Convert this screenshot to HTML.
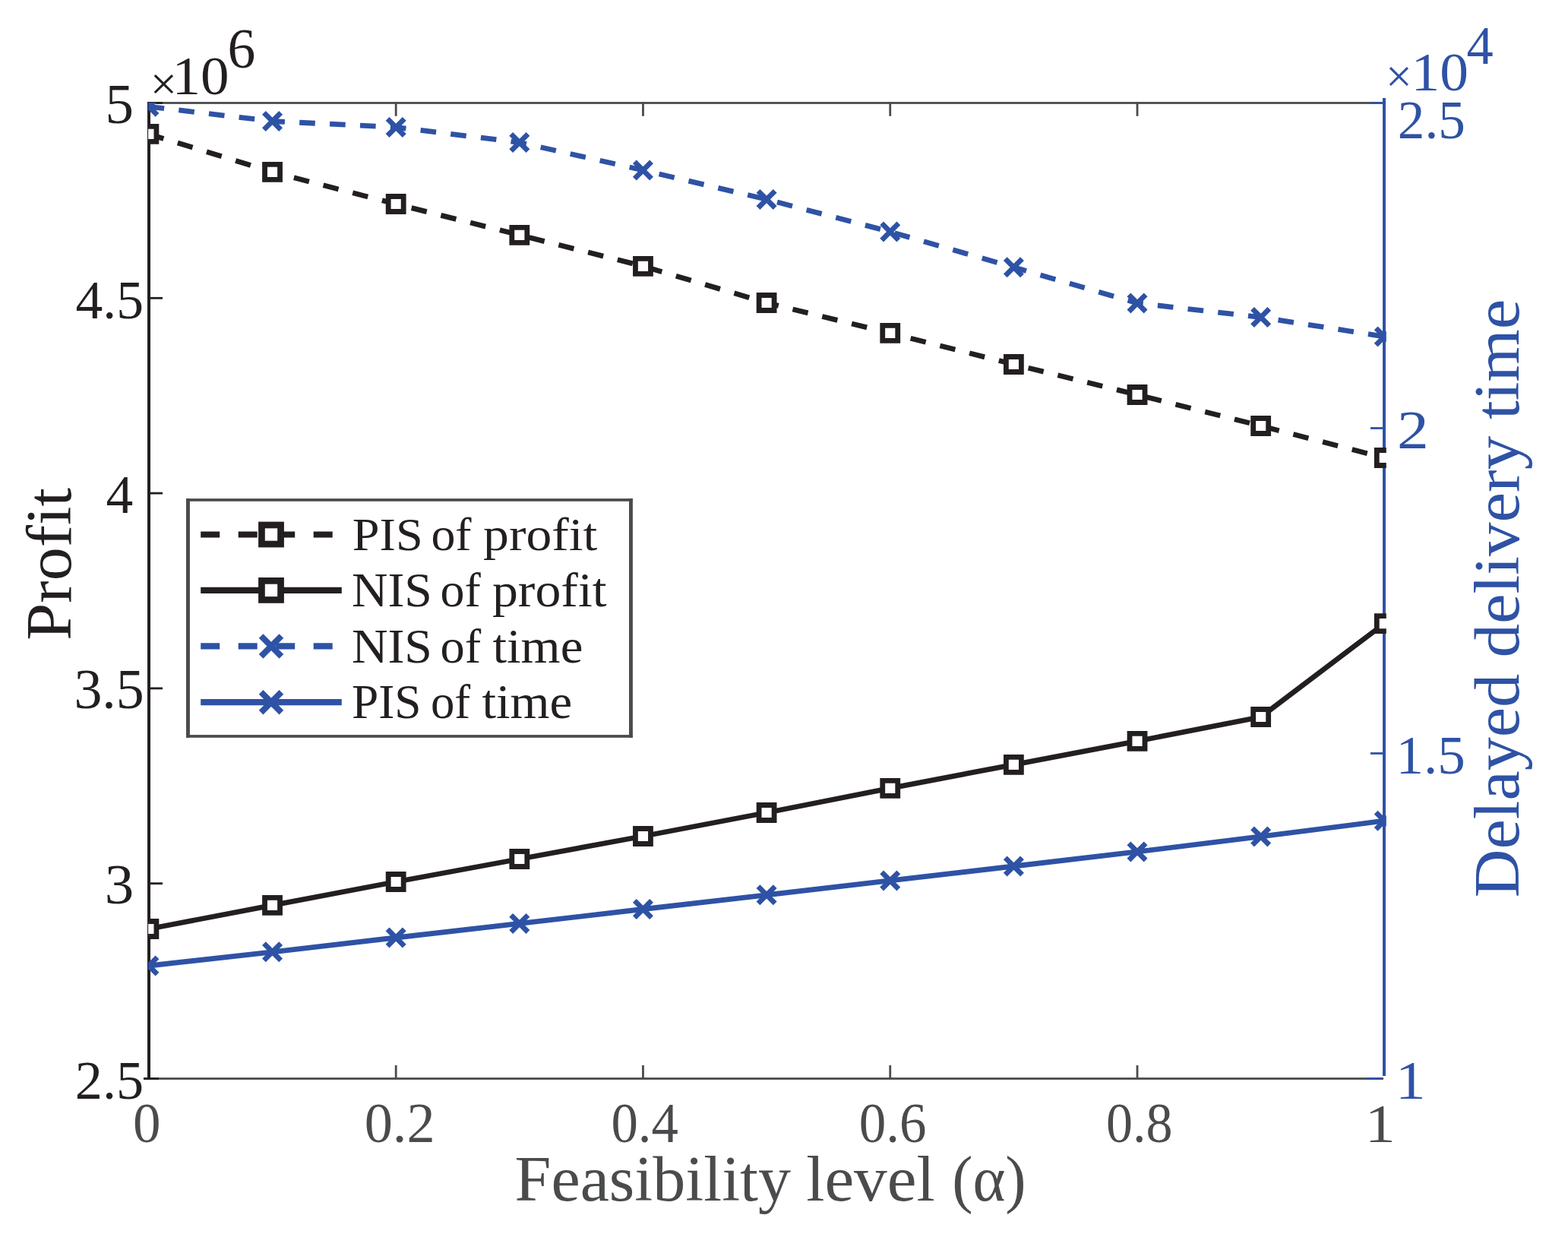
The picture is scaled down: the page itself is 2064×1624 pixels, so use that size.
<!DOCTYPE html><html><head><meta charset="utf-8"><title>Profit and delayed delivery time vs feasibility level</title><style>html,body{margin:0;padding:0;background:#fff;}svg{display:block;}text{font-family:"Liberation Serif",serif;font-size:100px;}</style></head><body>
<svg width="2064" height="1624" viewBox="0 0 2064 1624">
<rect width="2064" height="1624" fill="#fff"/>
<defs><clipPath id="ax"><rect x="195.1" y="134.9" width="1629.7" height="1286"/></clipPath></defs>
<rect x="194" y="134.1" width="1630" height="2.8" fill="#4a4b4d"/>
<rect x="194" y="134.1" width="20" height="2.8" fill="#231f20"/>
<rect x="1804" y="134.1" width="18" height="2.8" fill="#2e52a5"/>
<rect x="189" y="1418.1" width="1632" height="2.8" fill="#4a4b4d"/>
<rect x="189" y="1418.1" width="20" height="2.8" fill="#231f20"/>
<rect x="1799" y="1418.1" width="20" height="2.8" fill="#2e52a5"/>
<rect x="519.78" y="134.5" width="2.8" height="18.3" fill="#4a4b4d"/>
<rect x="519.78" y="1402" width="2.8" height="18" fill="#4a4b4d"/>
<rect x="845.06" y="134.5" width="2.8" height="18.3" fill="#4a4b4d"/>
<rect x="845.06" y="1402" width="2.8" height="18" fill="#4a4b4d"/>
<rect x="1170.34" y="134.5" width="2.8" height="18.3" fill="#4a4b4d"/>
<rect x="1170.34" y="1402" width="2.8" height="18" fill="#4a4b4d"/>
<rect x="1495.62" y="134.5" width="2.8" height="18.3" fill="#4a4b4d"/>
<rect x="1495.62" y="1402" width="2.8" height="18" fill="#4a4b4d"/>
<rect x="196" y="390.9" width="18" height="2.8" fill="#231f20"/>
<rect x="196" y="647.7" width="18" height="2.8" fill="#231f20"/>
<rect x="196" y="904.5" width="18" height="2.8" fill="#231f20"/>
<rect x="196" y="1161.3" width="18" height="2.8" fill="#231f20"/>
<rect x="1804" y="562.1" width="18" height="2.8" fill="#2e52a5"/>
<rect x="1804" y="990.1" width="18" height="2.8" fill="#2e52a5"/>
<rect x="1820" y="129" width="4" height="1287" fill="#2e52a5"/>
<rect x="194" y="134.1" width="4" height="1286.5" fill="#231f20"/>
<g clip-path="url(#ax)">
<polyline points="195.9,1271 358.54,1252.8 521.18,1234 683.82,1215.4 846.46,1196.5 1009.1,1177.8 1171.74,1158.9 1334.38,1140 1497.02,1120.9 1659.66,1100.9 1822.3,1080.2" fill="none" stroke="#2e52a5" stroke-width="6.8" stroke-linejoin="miter"/>
<path d="M184.8 1259.9L207 1282.1M184.8 1282.1L207 1259.9M347.44 1241.7L369.64 1263.9M347.44 1263.9L369.64 1241.7M510.08 1222.9L532.28 1245.1M510.08 1245.1L532.28 1222.9M672.72 1204.3L694.92 1226.5M672.72 1226.5L694.92 1204.3M835.36 1185.4L857.56 1207.6M835.36 1207.6L857.56 1185.4M998 1166.7L1020.2 1188.9M998 1188.9L1020.2 1166.7M1160.64 1147.8L1182.84 1170M1160.64 1170L1182.84 1147.8M1323.28 1128.9L1345.48 1151.1M1323.28 1151.1L1345.48 1128.9M1485.92 1109.8L1508.12 1132M1485.92 1132L1508.12 1109.8M1648.56 1089.8L1670.76 1112M1648.56 1112L1670.76 1089.8M1811.2 1069.1L1833.4 1091.3M1811.2 1091.3L1833.4 1069.1" fill="none" stroke="#2e52a5" stroke-width="6.8" stroke-linecap="butt"/>
<polyline points="195.9,140.3 358.54,159.5 521.18,167.4 683.82,187.5 846.46,224 1009.1,262.4 1171.74,305 1334.38,351.8 1497.02,398.9 1659.66,417.5 1822.3,443" fill="none" stroke="#2e52a5" stroke-width="6.8" stroke-dasharray="20.65 19.3" stroke-dashoffset="0.3" stroke-linecap="butt"/>
<path d="M184.8 129.2L207 151.4M184.8 151.4L207 129.2M347.44 148.4L369.64 170.6M347.44 170.6L369.64 148.4M510.08 156.3L532.28 178.5M510.08 178.5L532.28 156.3M672.72 176.4L694.92 198.6M672.72 198.6L694.92 176.4M835.36 212.9L857.56 235.1M835.36 235.1L857.56 212.9M998 251.3L1020.2 273.5M998 273.5L1020.2 251.3M1160.64 293.9L1182.84 316.1M1160.64 316.1L1182.84 293.9M1323.28 340.7L1345.48 362.9M1323.28 362.9L1345.48 340.7M1485.92 387.8L1508.12 410M1485.92 410L1508.12 387.8M1648.56 406.4L1670.76 428.6M1648.56 428.6L1670.76 406.4M1811.2 431.9L1833.4 454.1M1811.2 454.1L1833.4 431.9" fill="none" stroke="#2e52a5" stroke-width="6.8" stroke-linecap="butt"/>
<polyline points="195.9,1222.5 358.54,1191.4 521.18,1160.5 683.82,1130.5 846.46,1100.5 1009.1,1069.5 1171.74,1037.3 1334.38,1006.3 1497.02,975.3 1659.66,943.5 1822.3,820.6" fill="none" stroke="#231f20" stroke-width="6.8" stroke-linejoin="miter"/>
<path d="M185.9 1212.5h20v20h-20zM348.54 1181.4h20v20h-20zM511.18 1150.5h20v20h-20zM673.82 1120.5h20v20h-20zM836.46 1090.5h20v20h-20zM999.1 1059.5h20v20h-20zM1161.74 1027.3h20v20h-20zM1324.38 996.3h20v20h-20zM1487.02 965.3h20v20h-20zM1649.66 933.5h20v20h-20zM1812.3 810.6h20v20h-20z" fill="#fff" stroke="#231f20" stroke-width="6.8" stroke-linejoin="miter"/>
<polyline points="195.9,176.4 358.54,226.4 521.18,268.5 683.82,309.3 846.46,350.3 1009.1,398.5 1171.74,438.4 1334.38,479.5 1497.02,519.5 1659.66,560.5 1822.3,602.5" fill="none" stroke="#231f20" stroke-width="6.8" stroke-dasharray="20.65 19.3" stroke-dashoffset="0.3" stroke-linecap="butt"/>
<path d="M185.9 166.4h20v20h-20zM348.54 216.4h20v20h-20zM511.18 258.5h20v20h-20zM673.82 299.3h20v20h-20zM836.46 340.3h20v20h-20zM999.1 388.5h20v20h-20zM1161.74 428.4h20v20h-20zM1324.38 469.5h20v20h-20zM1487.02 509.5h20v20h-20zM1649.66 550.5h20v20h-20zM1812.3 592.5h20v20h-20z" fill="#fff" stroke="#231f20" stroke-width="6.8" stroke-linejoin="miter"/>
</g>
<rect x="245" y="656.1" width="587.9" height="314.7" fill="#fff"/>
<rect x="245" y="656.1" width="587.9" height="3.7" fill="#4a4b4d"/>
<rect x="245" y="967.1" width="587.9" height="3.7" fill="#4a4b4d"/>
<rect x="245" y="656.1" width="4.9" height="314.7" fill="#4a4b4d"/>
<rect x="828" y="656.1" width="4.9" height="314.7" fill="#4a4b4d"/>
<line x1="264.2" y1="703.5" x2="449.8" y2="703.5" stroke="#231f20" stroke-width="8.2" stroke-dasharray="25 24.5"/>
<rect x="344.45" y="690.95" width="25.1" height="25.1" fill="#fff" stroke="#231f20" stroke-width="8.7"/>
<line x1="264.2" y1="776.9" x2="449.8" y2="776.9" stroke="#231f20" stroke-width="8.2"/>
<rect x="344.45" y="764.35" width="25.1" height="25.1" fill="#fff" stroke="#231f20" stroke-width="8.7"/>
<line x1="264.2" y1="850.4" x2="449.8" y2="850.4" stroke="#2e52a5" stroke-width="8.2" stroke-dasharray="25 24.5"/>
<path d="M343.6 837L370.4 863.8M343.6 863.8L370.4 837" stroke="#2e52a5" stroke-width="8"/>
<line x1="264.2" y1="924.2" x2="449.8" y2="924.2" stroke="#2e52a5" stroke-width="8.2"/>
<path d="M343.6 910.8L370.4 937.6M343.6 937.6L370.4 910.8" stroke="#2e52a5" stroke-width="8"/>
<text transform="matrix(0.62 0 0 0.62 0 723.7)" fill="#231f20"><tspan x="748.1391" textLength="149.6785" lengthAdjust="spacingAndGlyphs">PIS</tspan> <tspan x="915.1996" textLength="85.838" lengthAdjust="spacingAndGlyphs">of</tspan> <tspan x="1026.0244" textLength="242.355" lengthAdjust="spacingAndGlyphs">profit</tspan></text>
<text transform="matrix(0.6261 0 0 0.6261 0 798.2)" fill="#231f20"><tspan x="739.6529" textLength="168.9673" lengthAdjust="spacingAndGlyphs">NIS</tspan> <tspan x="925.7552" textLength="85.0006" lengthAdjust="spacingAndGlyphs">of</tspan> <tspan x="1034.855" textLength="240.6357" lengthAdjust="spacingAndGlyphs">profit</tspan></text>
<text transform="matrix(0.6292 0 0 0.6292 0 872.2)" fill="#231f20"><tspan x="735.7382" textLength="168.4841" lengthAdjust="spacingAndGlyphs">NIS</tspan> <tspan x="921.2319" textLength="85.2527" lengthAdjust="spacingAndGlyphs">of</tspan> <tspan x="1030.5642" textLength="189.0422" lengthAdjust="spacingAndGlyphs">time</tspan></text>
<text transform="matrix(0.6261 0 0 0.6261 0 945)" fill="#231f20"><tspan x="739.4453" textLength="146.1715" lengthAdjust="spacingAndGlyphs">PIS</tspan> <tspan x="905.5385" textLength="83.4976" lengthAdjust="spacingAndGlyphs">of</tspan> <tspan x="1013.3939" textLength="189.6368" lengthAdjust="spacingAndGlyphs">time</tspan></text>
<text transform="matrix(0.7488 0 0 0.732 138.557 162.068)" fill="#231f20">5</text>
<text transform="matrix(0.716 0 0 0.7262 99.4681 418.8317)" fill="#231f20">4.5</text>
<text transform="matrix(0.7144 0 0 0.7258 139.5712 674.8)" fill="#231f20">4</text>
<text transform="matrix(0.7384 0 0 0.7433 97.4542 932.3089)" fill="#231f20">3.5</text>
<text transform="matrix(0.7694 0 0 0.7307 137.8097 1189.0693)" fill="#231f20">3</text>
<text transform="matrix(0.7226 0 0 0.7271 98.7689 1446.3305)" fill="#231f20">2.5</text>
<text transform="matrix(0.7114 0 0 0.7227 1839.8171 181.9365)" fill="#2e52a5">2.5</text>
<text transform="matrix(0.835 0 0 0.7236 1839.0817 589.9)" fill="#2e52a5">2</text>
<text transform="matrix(0.7309 0 0 0.7292 1837.4659 1017.9277)" fill="#2e52a5">1.5</text>
<text transform="matrix(0.8009 0 0 0.7273 1836.7585 1446)" fill="#2e52a5">1</text>
<text transform="matrix(0.7312 0 0 0.7292 175.1188 1503.2708)" fill="#4a4b4d">0</text>
<text transform="matrix(0.7435 0 0 0.7345 479.6738 1503.2207)" fill="#4a4b4d">0.2</text>
<text transform="matrix(0.7086 0 0 0.7345 804.4017 1503.2207)" fill="#4a4b4d">0.4</text>
<text transform="matrix(0.7107 0 0 0.7345 1130.7941 1503.2207)" fill="#4a4b4d">0.6</text>
<text transform="matrix(0.7003 0 0 0.7345 1455.9323 1503.2207)" fill="#4a4b4d">0.8</text>
<text transform="matrix(0.8009 0 0 0.7273 1796.7585 1503)" fill="#4a4b4d">1</text>
<text transform="matrix(0.6248 0 0 0.6197 197.8017 131.0557)" fill="#231f20">×</text>
<text transform="matrix(0.7517 0 0 0.7292 226.4852 124.2708)" fill="#231f20">10</text>
<text transform="matrix(0.7359 0 0 0.7307 299.6109 89.3693)" fill="#231f20">6</text>
<text transform="matrix(0.6174 0 0 0.6074 1823.9612 120.7959)" fill="#2e52a5">×</text>
<text transform="matrix(0.7551 0 0 0.7248 1857.5555 119.0752)" fill="#2e52a5">10</text>
<text transform="matrix(0.7036 0 0 0.7273 1930.5928 84.1)" fill="#2e52a5">4</text>
<text transform="matrix(0.84 0 0 0.84 0 1579.8)" fill="#4a4b4d"><tspan x="806.6154" textLength="432.713" lengthAdjust="spacingAndGlyphs">Feasibility</tspan> <tspan x="1263.3553" textLength="201.6678" lengthAdjust="spacingAndGlyphs">level</tspan> <tspan x="1491.9362" textLength="115.9458" lengthAdjust="spacingAndGlyphs">(α)</tspan></text>
<text transform="matrix(0 -0.8808 0.8384 0 92.8 842.6425)" fill="#231f20">Profit</text>
<text transform="matrix(0 -0.8369 0.8369 0 1998.8 0)" fill="#2e52a5"><tspan x="-1411.4675" textLength="351.9848" lengthAdjust="spacingAndGlyphs">Delayed</tspan> <tspan x="-1034.2553" textLength="348.5956" lengthAdjust="spacingAndGlyphs">delivery</tspan> <tspan x="-659.447" textLength="188.8079" lengthAdjust="spacingAndGlyphs">time</tspan></text>
</svg></body></html>
